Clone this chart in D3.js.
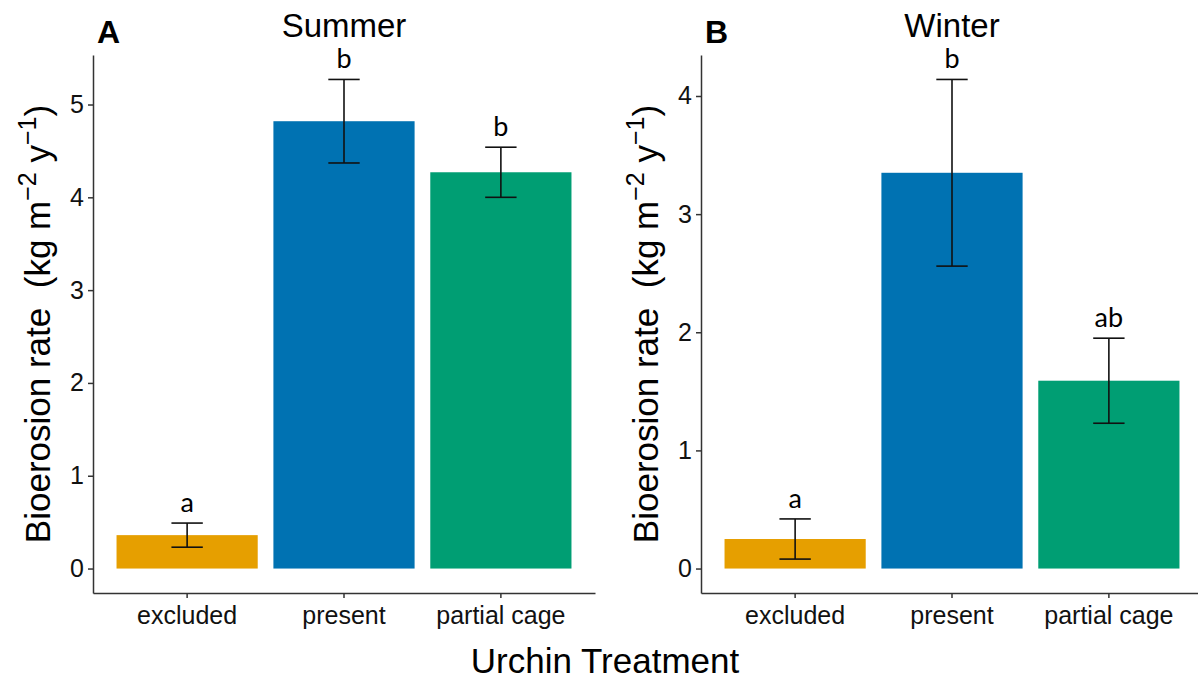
<!DOCTYPE html>
<html>
<head>
<meta charset="utf-8">
<script src="https://cdn.jsdelivr.net/npm/d3@7"></script>
<style>
  body { margin: 0; background: #fff; }
  svg { display: block; font-family: "Liberation Sans", Arial, sans-serif; }
  .axis path, .axis line { stroke: #333; stroke-width: 1.5; }
  .axis text { fill: #111; font-size: 25px; font-family: "Liberation Sans", Arial, sans-serif; }
</style>
</head>
<body>
<main></main>
<script>
const width = 1198;
const height = 684;

// data
const categories = ['excluded', 'present', 'partial cage'];
const barColors = ['#E69F00', '#0072B2', '#009E73'];

const summerMean = [0.36, 4.82, 4.27];
const summerSE = [0.13, 0.45, 0.27];
const summerLetters = ['a', 'b', 'b'];
const summerTicks = [0, 1, 2, 3, 4, 5];

const winterMean = [0.25, 3.35, 1.59];
const winterSE = [0.17, 0.79, 0.36];
const winterLetters = ['a', 'b', 'ab'];
const winterTicks = [0, 1, 2, 3, 4];

const panels = [
    { tag: 'A', title: 'Summer', mean: summerMean, se: summerSE, letters: summerLetters, ticks: summerTicks,
      left: 93, right: 595, labelX: 50 },
    { tag: 'B', title: 'Winter', mean: winterMean, se: winterSE, letters: winterLetters, ticks: winterTicks,
      left: 701, right: 1203, labelX: 658 }
];

const plotTop = 55;
const plotBottom = 593;

const svg = d3.select('main')
    .append('svg')
    .attr('width', width)
    .attr('height', height);

const drawPanel = (p) => {
    const g = svg.append('g');

    const maxTop = d3.max(p.mean, (d, i) => d + p.se[i]);
    const pad = maxTop * 0.05;
    const yScale = d3.scaleLinear().domain([-pad, maxTop + pad]).range([plotBottom, plotTop]);

    const xScale = d3.scaleBand()
        .domain(categories)
        .range([p.left, p.right])
        .paddingInner(0.1)
        .paddingOuter(0.15);

    // bars
    g.selectAll('rect.bar')
        .data(categories)
        .enter()
        .append('rect')
        .attr('class', 'bar')
        .attr('x', (d) => xScale(d))
        .attr('width', xScale.bandwidth())
        .attr('y', (d, i) => yScale(p.mean[i]))
        .attr('height', (d, i) => yScale(0) - yScale(p.mean[i]))
        .attr('fill', (d, i) => barColors[i]);

    // error bars
    const capW = xScale.step() * 0.1;
    const err = g.selectAll('g.err')
        .data(categories)
        .enter()
        .append('g')
        .attr('class', 'err')
        .attr('stroke', '#111')
        .attr('stroke-width', 1.6);

    const cx = (d) => xScale(d) + xScale.bandwidth() / 2;

    err.append('line')
        .attr('x1', cx).attr('x2', cx)
        .attr('y1', (d, i) => yScale(p.mean[i] + p.se[i]))
        .attr('y2', (d, i) => yScale(p.mean[i] - p.se[i]));
    err.append('line')
        .attr('x1', (d) => cx(d) - capW).attr('x2', (d) => cx(d) + capW)
        .attr('y1', (d, i) => yScale(p.mean[i] + p.se[i]))
        .attr('y2', (d, i) => yScale(p.mean[i] + p.se[i]));
    err.append('line')
        .attr('x1', (d) => cx(d) - capW).attr('x2', (d) => cx(d) + capW)
        .attr('y1', (d, i) => yScale(p.mean[i] - p.se[i]))
        .attr('y2', (d, i) => yScale(p.mean[i] - p.se[i]));

    // significance letters
    g.selectAll('text.letter')
        .data(categories)
        .enter()
        .append('text')
        .attr('class', 'letter')
        .attr('x', cx)
        .attr('y', (d, i) => yScale(p.mean[i] + p.se[i]) - 11)
        .attr('text-anchor', 'middle')
        .style('font-family', 'Lato, "Open Sans", sans-serif')
        .style('font-size', '27px')
        .attr('fill', '#000')
        .text((d, i) => p.letters[i]);

    // axes
    g.append('g')
        .attr('class', 'axis')
        .attr('transform', 'translate(' + p.left + ',0)')
        .call(d3.axisLeft(yScale).tickValues(p.ticks).tickFormat(d3.format('d')).tickSize(5).tickSizeOuter(0).tickPadding(4));

    g.append('g')
        .attr('class', 'axis')
        .attr('transform', 'translate(0,' + plotBottom + ')')
        .call(d3.axisBottom(xScale).tickSize(5).tickSizeOuter(0).tickPadding(8));

    // panel title and tag
    g.append('text')
        .attr('x', (p.left + p.right) / 2)
        .attr('y', 37)
        .attr('text-anchor', 'middle')
        .style('font-size', '33px')
        .attr('fill', '#000')
        .text(p.title);

    g.append('text')
        .attr('x', p.left + 4)
        .attr('y', 43)
        .style('font-size', '32px')
        .style('font-weight', 'bold')
        .attr('fill', '#000')
        .text(p.tag);

    // y label with superscripts
    const yl = g.append('text')
        .attr('transform', 'translate(' + p.labelX + ',' + (plotTop + plotBottom) / 2 + ') rotate(-90)')
        .attr('text-anchor', 'middle')
        .style('font-size', '35px')
        .attr('fill', '#000');
    yl.append('tspan').text('Bioerosion rate \u00a0(kg m');
    yl.append('tspan').attr('dy', -14).style('font-size', '25px').text('\u22122');
    yl.append('tspan').attr('dy', 14).text(' y');
    yl.append('tspan').attr('dy', -14).style('font-size', '25px').text('\u22121');
    yl.append('tspan').attr('dy', 14).text(')');
};

panels.forEach(drawPanel);

svg.append('text')
    .attr('x', 605)
    .attr('y', 673)
    .attr('text-anchor', 'middle')
    .style('font-size', '35px')
    .attr('fill', '#000')
    .text('Urchin Treatment');
</script>
</body>
</html>
